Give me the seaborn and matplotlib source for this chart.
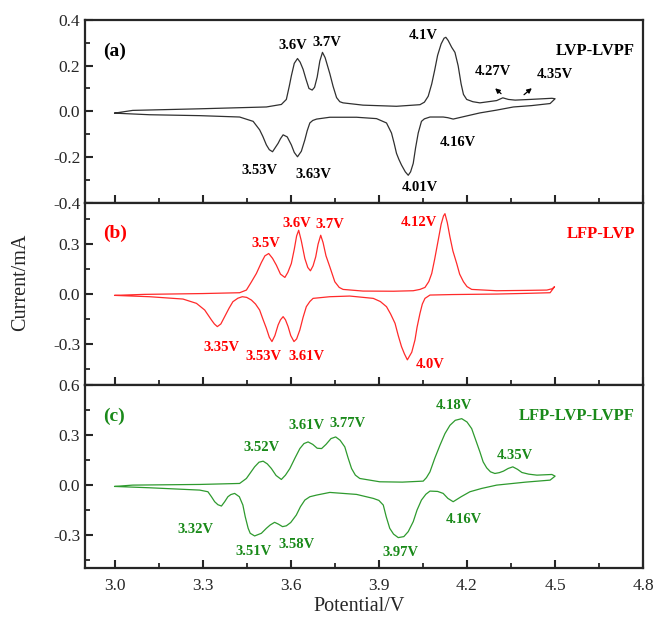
import matplotlib
matplotlib.use("Agg")
import matplotlib.pyplot as plt
from matplotlib.ticker import MultipleLocator
import seaborn as sns

# (a) LVP-LVPF : anodic sweep then cathodic sweep (one closed loop)
va = [3.0, 3.062, 3.29, 3.517, 3.568, 3.585, 3.595, 3.602, 3.612, 3.623, 3.632, 3.642, 3.652, 3.662,
      3.673, 3.681, 3.690, 3.699, 3.708, 3.717, 3.725, 3.733, 3.744, 3.756, 3.767, 3.778, 3.846, 3.96,
      4.04, 4.055, 4.068, 4.08, 4.09, 4.1, 4.112, 4.122, 4.128, 4.136, 4.148, 4.159, 4.17, 4.18, 4.188,
      4.199, 4.22, 4.244, 4.301, 4.322, 4.341, 4.364, 4.415, 4.489, 4.5,
      4.483, 4.42, 4.358, 4.3, 4.244, 4.2, 4.153, 4.135, 4.119, 4.074, 4.055, 4.045, 4.034, 4.025, 4.017,
      4.008, 4.0, 3.99, 3.977, 3.968, 3.96, 3.952, 3.943, 3.926, 3.892, 3.824, 3.733, 3.688, 3.675,
      3.665, 3.656, 3.648, 3.636, 3.623, 3.612, 3.602, 3.588, 3.574, 3.565, 3.557, 3.538, 3.527, 3.517,
      3.505, 3.494, 3.472, 3.426, 3.29, 3.119, 3.0]
ia = [-0.008, 0.004, 0.011, 0.019, 0.030, 0.052, 0.11, 0.155, 0.21, 0.231, 0.215, 0.184, 0.14, 0.100,
      0.093, 0.105, 0.15, 0.22, 0.258, 0.235, 0.2, 0.165, 0.11, 0.06, 0.042, 0.037, 0.027, 0.022,
      0.029, 0.04, 0.066, 0.12, 0.18, 0.245, 0.295, 0.32, 0.324, 0.31, 0.28, 0.258, 0.199, 0.12, 0.074,
      0.052, 0.042, 0.037, 0.047, 0.059, 0.052, 0.049, 0.052, 0.057, 0.055,
      0.034, 0.025, 0.019, 0.005, -0.007, -0.02, -0.034, -0.028, -0.025, -0.025, -0.033, -0.044, -0.095,
      -0.16, -0.228, -0.265, -0.28, -0.265, -0.235, -0.21, -0.184, -0.14, -0.095, -0.051, -0.032, -0.026,
      -0.026, -0.034, -0.040, -0.051, -0.085, -0.125, -0.175, -0.199, -0.18, -0.147, -0.112, -0.103,
      -0.12, -0.14, -0.177, -0.168, -0.147, -0.11, -0.081, -0.044, -0.025, -0.019, -0.015, -0.008]

# (b) LFP-LVP
vb = [3.0, 3.1, 3.3, 3.426, 3.449, 3.465, 3.483, 3.5, 3.512, 3.525, 3.538, 3.551, 3.565, 3.58, 3.59,
      3.602, 3.612, 3.62, 3.627, 3.636, 3.648, 3.658, 3.667, 3.676, 3.685, 3.693, 3.702, 3.71, 3.72,
      3.733, 3.75, 3.765, 3.778, 3.846, 3.95, 4.017, 4.04, 4.057, 4.07, 4.08, 4.09, 4.102, 4.112, 4.12,
      4.125, 4.133, 4.142, 4.152, 4.165, 4.175, 4.188, 4.2, 4.216, 4.301, 4.4, 4.472, 4.49, 4.498,
      4.483, 4.4, 4.301, 4.15, 4.074, 4.057, 4.048, 4.04, 4.03, 4.023, 4.012, 3.997, 3.987, 3.977, 3.966,
      3.955, 3.94, 3.926, 3.905, 3.881, 3.801, 3.733, 3.676, 3.665, 3.653, 3.642, 3.631, 3.62, 3.611,
      3.6, 3.591, 3.582, 3.574, 3.565, 3.557, 3.546, 3.536, 3.527, 3.517, 3.505, 3.494, 3.48, 3.466,
      3.45, 3.435, 3.42, 3.403, 3.39, 3.375, 3.362, 3.35, 3.34, 3.33, 3.307, 3.279, 3.233, 3.119, 3.0]
ib = [-0.008, -0.002, 0.003, 0.008, 0.024, 0.07, 0.124, 0.19, 0.23, 0.244, 0.215, 0.174, 0.12, 0.1,
      0.13, 0.184, 0.27, 0.35, 0.384, 0.32, 0.214, 0.16, 0.14, 0.17, 0.224, 0.3, 0.354, 0.31, 0.23,
      0.164, 0.074, 0.04, 0.028, 0.018, 0.017, 0.020, 0.028, 0.04, 0.075, 0.124, 0.21, 0.324, 0.42,
      0.47, 0.484, 0.43, 0.344, 0.26, 0.184, 0.12, 0.074, 0.045, 0.028, 0.020, 0.022, 0.024, 0.032,
      0.044,
      0.008, 0.004, 0.0, -0.003, -0.006, -0.026, -0.06, -0.116, -0.2, -0.276, -0.35, -0.396, -0.36,
      -0.316, -0.25, -0.176, -0.12, -0.076, -0.045, -0.026, -0.012, -0.016, -0.026, -0.045, -0.076,
      -0.14, -0.216, -0.27, -0.286, -0.25, -0.196, -0.155, -0.136, -0.155, -0.186, -0.25, -0.286,
      -0.26, -0.206, -0.15, -0.096, -0.06, -0.036, -0.02, -0.016, -0.025, -0.046, -0.085, -0.136,
      -0.18, -0.196, -0.18, -0.156, -0.096, -0.056, -0.030, -0.016, -0.008]

# (c) LFP-LVP-LVPF
vc = [3.0, 3.062, 3.29, 3.426, 3.449, 3.465, 3.477, 3.492, 3.506, 3.52, 3.534, 3.55, 3.568, 3.582,
      3.597, 3.615, 3.631, 3.645, 3.659, 3.675, 3.69, 3.705, 3.72, 3.737, 3.753, 3.768, 3.784, 3.795,
      3.807, 3.82, 3.835, 3.903, 3.98, 4.051, 4.062, 4.074, 4.09, 4.108, 4.125, 4.142, 4.16, 4.182,
      4.2, 4.216, 4.23, 4.244, 4.255, 4.267, 4.28, 4.295, 4.31, 4.324, 4.34, 4.356, 4.372, 4.387, 4.41,
      4.438, 4.489, 4.5,
      4.483, 4.4, 4.301, 4.25, 4.21, 4.18, 4.153, 4.135, 4.119, 4.1, 4.074, 4.06, 4.045, 4.03, 4.017,
      4.0, 3.985, 3.966, 3.95, 3.937, 3.925, 3.915, 3.9, 3.881, 3.824, 3.733, 3.688, 3.665, 3.648,
      3.633, 3.619, 3.6, 3.585, 3.572, 3.558, 3.545, 3.53, 3.517, 3.5, 3.477, 3.462, 3.455, 3.445,
      3.437, 3.425, 3.409, 3.396, 3.386, 3.375, 3.364, 3.352, 3.341, 3.33, 3.318, 3.29, 3.119, 3.0]
ic = [-0.008, 0.0, 0.004, 0.010, 0.040, 0.08, 0.110, 0.138, 0.144, 0.128, 0.100, 0.058, 0.034, 0.06,
      0.100, 0.165, 0.220, 0.25, 0.260, 0.245, 0.222, 0.220, 0.245, 0.28, 0.290, 0.27, 0.230, 0.165,
      0.100, 0.06, 0.040, 0.020, 0.018, 0.024, 0.045, 0.080, 0.16, 0.240, 0.31, 0.360, 0.39, 0.400,
      0.38, 0.340, 0.27, 0.200, 0.14, 0.104, 0.08, 0.070, 0.075, 0.084, 0.1, 0.110, 0.095, 0.076, 0.066,
      0.060, 0.064, 0.054,
      0.030, 0.018, 0.0, -0.02, -0.040, -0.07, -0.100, -0.08, -0.050, -0.038, -0.036, -0.055, -0.090,
      -0.15, -0.220, -0.28, -0.31, -0.316, -0.295, -0.260, -0.19, -0.120, -0.092, -0.080, -0.056,
      -0.044, -0.060, -0.07, -0.090, -0.13, -0.180, -0.225, -0.245, -0.250, -0.235, -0.224, -0.24,
      -0.260, -0.29, -0.306, -0.29, -0.260, -0.19, -0.120, -0.07, -0.050, -0.057, -0.070, -0.1,
      -0.126, -0.118, -0.100, -0.07, -0.040, -0.030, -0.016, -0.008]

# peak labels: (text, x, y)
labels_a = [("3.6V", 3.607, 0.286), ("3.7V", 3.723, 0.303), ("4.1V", 4.050, 0.334),
            ("4.27V", 4.289, 0.175), ("4.35V", 4.500, 0.162), ("3.53V", 3.494, -0.257),
            ("3.63V", 3.678, -0.275), ("4.01V", 4.040, -0.332), ("4.16V", 4.169, -0.138)]
labels_b = [("3.5V", 3.515, 0.306), ("3.6V", 3.620, 0.426), ("3.7V", 3.733, 0.42),
            ("4.12V", 4.036, 0.432), ("3.35V", 3.365, -0.324), ("3.53V", 3.508, -0.378),
            ("3.61V", 3.655, -0.378), ("4.0V", 4.074, -0.426)]
labels_c = [("3.52V", 3.501, 0.228), ("3.61V", 3.655, 0.36), ("3.77V", 3.794, 0.372),
            ("4.18V", 4.156, 0.48), ("4.35V", 4.364, 0.18), ("3.32V", 3.276, -0.27),
            ("3.51V", 3.474, -0.402), ("3.58V", 3.620, -0.36), ("3.97V", 3.975, -0.408),
            ("4.16V", 4.190, -0.21)]

sns.set_style("ticks")
plt.rcParams['font.family'] = ['Liberation Serif', 'DejaVu Serif']
plt.rcParams['axes.unicode_minus'] = False

fig, axes = plt.subplots(3, 1, figsize=(6.55, 6.23), dpi=100, sharex=True)
fig.subplots_adjust(left=0.13, right=0.982, top=0.968, bottom=0.088, hspace=0)

panels = [
    (axes[0], va, ia, "#303030", "black", "(a)", "LVP-LVPF", labels_a, (-0.4, 0.4), 0.2, 0.1),
    (axes[1], vb, ib, "#ff2a2a", "#ff0000", "(b)", "LFP-LVP", labels_b, (-0.55, 0.55), 0.3, 0.15),
    (axes[2], vc, ic, "#2e9a2e", "#1a8a1a", "(c)", "LFP-LVP-LVPF", labels_c, (-0.5, 0.6), 0.3, 0.15),
]

for ax, v, i, lc, tc, tag, name, labs, ylim, major, minor in panels:
    sns.lineplot(x=v, y=i, sort=False, estimator=None, color=lc, lw=0.9, ax=ax)
    ax.set_xlim(2.9, 4.8)
    ax.set_ylim(*ylim)
    ax.yaxis.set_major_locator(MultipleLocator(major))
    ax.yaxis.set_minor_locator(MultipleLocator(minor))
    ax.xaxis.set_major_locator(MultipleLocator(0.3))
    ax.xaxis.set_minor_locator(MultipleLocator(0.15))
    ax.yaxis.set_major_formatter(matplotlib.ticker.FormatStrFormatter('%.1f'))
    ax.tick_params(which='major', direction='in', length=6, width=1.5, labelsize=12.5)
    ax.tick_params(which='minor', direction='in', length=3.5, width=1.3)
    for s in ax.spines.values():
        s.set_linewidth(1.6)
    ax.set_xlabel("")
    ax.set_ylabel("")
    ax.text(0.032, 0.83, tag, transform=ax.transAxes, ha='left', va='center',
            fontsize=14, fontweight='bold', color=tc)
    ax.text(0.985, 0.83, name, transform=ax.transAxes, ha='right', va='center',
            fontsize=12, fontweight='bold', color=tc)
    for t, x, y in labs:
        ax.text(x, y, t, ha='center', va='center', fontsize=10.5, fontweight='bold', color=tc)

# hide boundary labels that would collide
axes[1].set_yticks([-0.3, 0.0, 0.3])
axes[2].set_yticks([-0.3, 0.0, 0.3, 0.6])
axes[0].set_yticks([-0.4, -0.2, 0.0, 0.2, 0.4])
axes[2].set_xticks([3.0, 3.3, 3.6, 3.9, 4.2, 4.5, 4.8])
axes[2].tick_params(axis='x', pad=7)

# small arrows pointing to the weak peaks in (a)
axes[0].annotate("", xy=(4.289, 0.109), xytext=(4.323, 0.069),
                 arrowprops=dict(arrowstyle='-|>', color='black', lw=0.9, mutation_scale=7))
axes[0].annotate("", xy=(4.428, 0.109), xytext=(4.387, 0.065),
                 arrowprops=dict(arrowstyle='-|>', color='black', lw=0.9, mutation_scale=7))

fig.text(0.548, 0.026, "Potential/V", ha='center', va='center', fontsize=14.5)
fig.text(0.031, 0.547, "Current/mA", ha='center', va='center', rotation=90, fontsize=14.5)

plt.savefig("out.png", dpi=100)
